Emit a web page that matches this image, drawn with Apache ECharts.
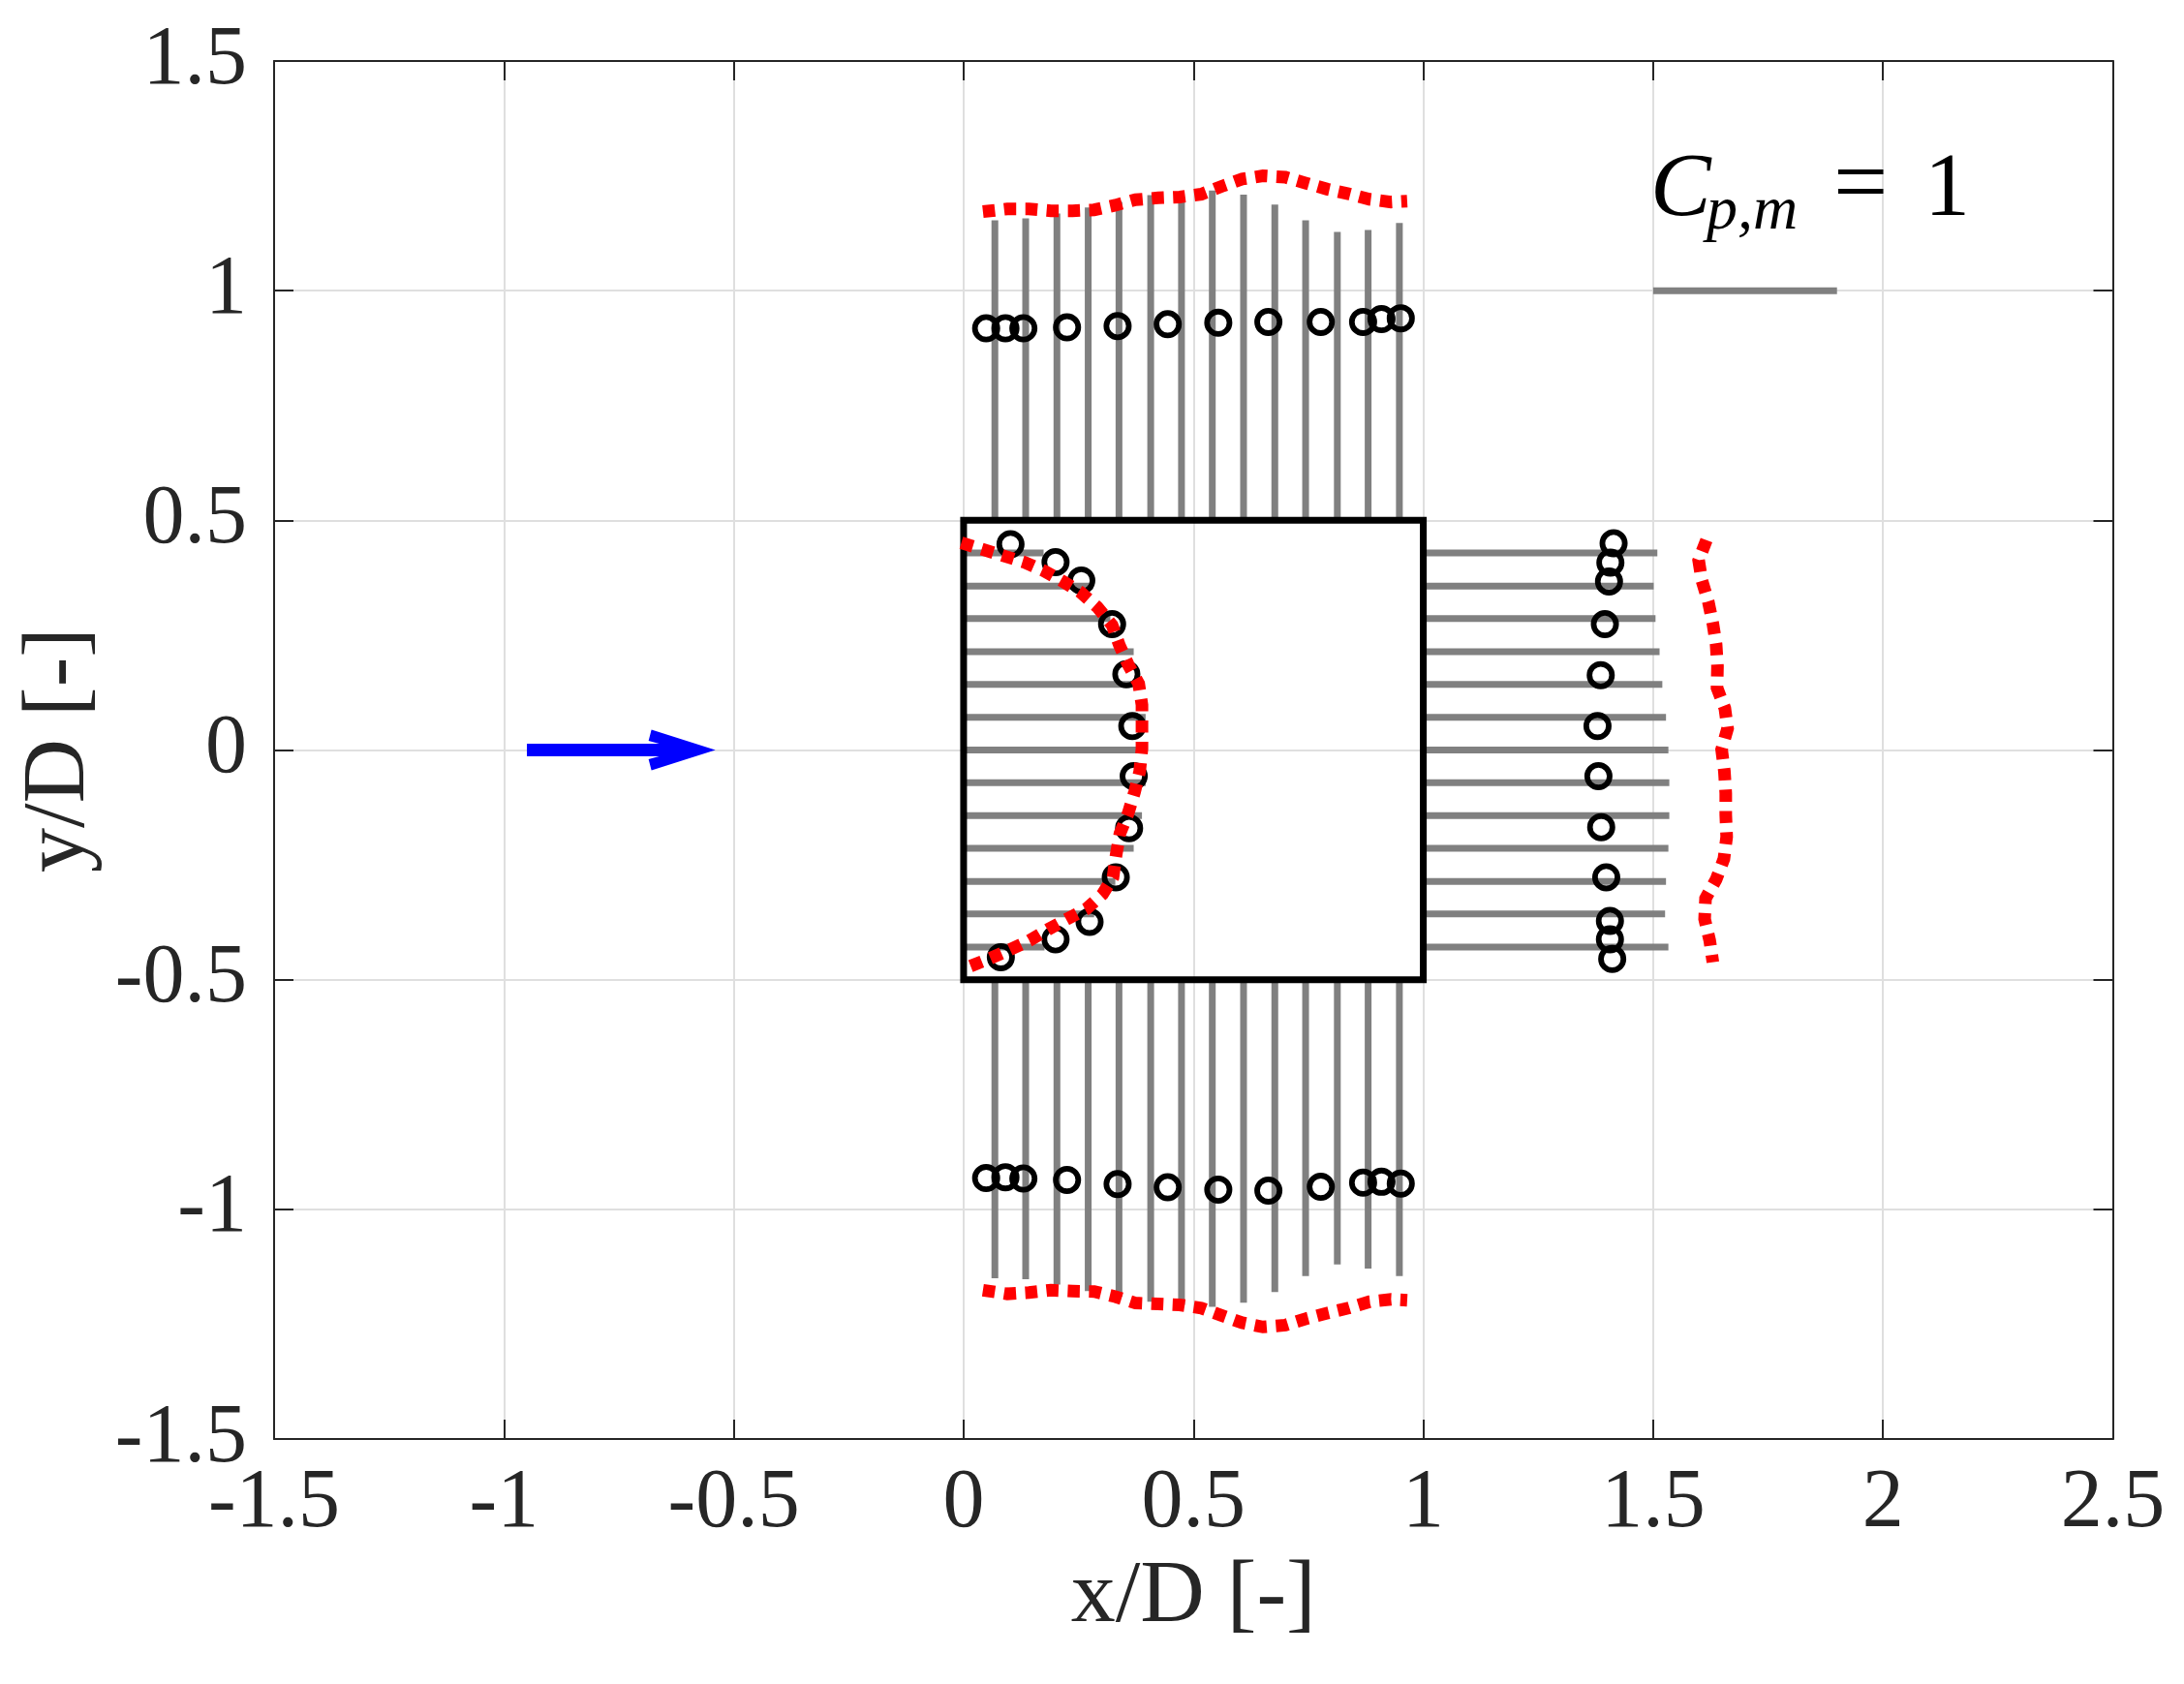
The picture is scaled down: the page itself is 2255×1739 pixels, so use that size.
<!DOCTYPE html>
<html><head><meta charset="utf-8">
<script src="https://cdn.jsdelivr.net/npm/echarts@6/dist/echarts.min.js"></script>
<style>html,body{margin:0;padding:0;background:#fff}#c{width:2255px;height:1739px}</style>
</head><body><div id="c"></div>
<script>
// ---------------- data ----------------
const SCALE = 0.4;            // D per unit of Cp (length of the legend bar for Cp,m = 1)
const xTicks = [-1.5, -1, -0.5, 0, 0.5, 1, 1.5, 2, 2.5];
const yTicks = [-1.5, -1, -0.5, 0, 0.5, 1, 1.5];

// square cylinder outline (corners)
const boxX = [0, 1, 1, 0];
const boxY = [0.5, 0.5, -0.5, -0.5];

// pressure bars on the side faces (x positions along top/bottom face)
const sideX = [0.068, 0.135, 0.203, 0.271, 0.338, 0.407, 0.474, 0.541, 0.609, 0.677, 0.744, 0.813, 0.880, 0.948];
const cpTop = [-1.633, -1.643, -1.670, -1.703, -1.733, -1.770, -1.758, -1.795, -1.773, -1.718, -1.633, -1.570, -1.580, -1.618];
const cpBottom = [-1.625, -1.630, -1.660, -1.695, -1.725, -1.753, -1.770, -1.780, -1.758, -1.700, -1.613, -1.550, -1.573, -1.613];

// pressure bars on front (windward) and back (leeward) faces
const faceY = [0.429, 0.357, 0.286, 0.214, 0.143, 0.071, 0, -0.071, -0.143, -0.214, -0.286, -0.357, -0.429];
const cpFront = [0.435, 0.703, 0.798, 0.925, 0.955, 0.990, 0.990, 0.990, 0.970, 0.925, 0.825, 0.710, 0.440];
const cpBack = [-1.273, -1.253, -1.263, -1.285, -1.300, -1.320, -1.333, -1.338, -1.338, -1.333, -1.320, -1.315, -1.333];

// circle markers
const circSideX = [0.049, 0.091, 0.130, 0.225, 0.335, 0.444, 0.554, 0.663, 0.777, 0.869, 0.909, 0.951];
const circTopY = [0.918, 0.918, 0.918, 0.920, 0.923, 0.927, 0.930, 0.932, 0.932, 0.932, 0.938, 0.940];
const circBotY = [-0.932, -0.930, -0.933, -0.936, -0.945, -0.952, -0.957, -0.959, -0.951, -0.942, -0.940, -0.944];
const circFrontX = [0.102, 0.200, 0.256, 0.323, 0.354, 0.367, 0.370, 0.360, 0.331, 0.274, 0.200, 0.081];
const circFrontY = [0.448, 0.409, 0.369, 0.274, 0.165, 0.052, -0.057, -0.170, -0.277, -0.374, -0.412, -0.451];
const circBackX = [1.414, 1.407, 1.404, 1.395, 1.386, 1.379, 1.381, 1.387, 1.398, 1.406, 1.406, 1.411];
const circBackY = [0.450, 0.408, 0.367, 0.274, 0.163, 0.052, -0.057, -0.168, -0.277, -0.372, -0.412, -0.455];

// red dotted profiles
const redSideX = [0.042, 0.095, 0.142, 0.190, 0.237, 0.284, 0.330, 0.374, 0.423, 0.470, 0.517, 0.561, 0.606, 0.651, 0.700, 0.745, 0.791, 0.837, 0.883, 0.930, 0.965];
const redTopY = [1.172, 1.178, 1.178, 1.174, 1.174, 1.176, 1.186, 1.198, 1.202, 1.204, 1.210, 1.227, 1.243, 1.250, 1.247, 1.234, 1.221, 1.211, 1.199, 1.193, 1.195];
const redBotY = [-1.176, -1.184, -1.181, -1.176, -1.178, -1.179, -1.190, -1.204, -1.206, -1.208, -1.215, -1.231, -1.247, -1.256, -1.252, -1.238, -1.226, -1.215, -1.201, -1.196, -1.198];
const redFrontX = [-0.005, 0.041, 0.086, 0.132, 0.175, 0.216, 0.255, 0.291, 0.323, 0.339, 0.358, 0.381, 0.388, 0.388, 0.388, 0.383, 0.372, 0.358, 0.340, 0.332, 0.325, 0.302, 0.267, 0.225, 0.183, 0.143, 0.098, 0.054, 0.011];
const redFrontY = [0.451, 0.437, 0.423, 0.409, 0.390, 0.367, 0.343, 0.311, 0.272, 0.228, 0.186, 0.144, 0.098, 0.050, 0.003, -0.047, -0.091, -0.138, -0.182, -0.227, -0.277, -0.314, -0.346, -0.368, -0.391, -0.415, -0.436, -0.455, -0.472];
const redBackX = [1.616, 1.599, 1.606, 1.620, 1.630, 1.637, 1.640, 1.639, 1.656, 1.662, 1.649, 1.655, 1.658, 1.658, 1.660, 1.654, 1.637, 1.614, 1.612, 1.623, 1.630];
const redBackY = [0.457, 0.413, 0.369, 0.323, 0.275, 0.230, 0.182, 0.135, 0.091, 0.047, 0.001, -0.046, -0.094, -0.141, -0.189, -0.237, -0.282, -0.323, -0.368, -0.414, -0.462];

// inflow arrow [xStart, xEnd] at y
const arrowX = [-0.95, -0.54];
const arrowY = [0, 0];

// legend bar: reference Cp and anchor
const legendCp = 1;
const legendAnchor = [1.5, 1.0];
const legendLabel = ['C', 'p,m', '=', '1'];

// ---------------- build ----------------
const bars = [];
sideX.forEach((x, i) => {
  bars.push([x, 0.5, x, 0.5 + Math.abs(cpTop[i]) * SCALE]);
  bars.push([x, -0.5, x, -0.5 - Math.abs(cpBottom[i]) * SCALE]);
});
faceY.forEach((y, i) => {
  bars.push([0, y, 0 + Math.abs(cpFront[i]) * SCALE, y]);
  bars.push([1, y, 1 + Math.abs(cpBack[i]) * SCALE, y]);
});
bars.push([legendAnchor[0], legendAnchor[1], legendAnchor[0] + legendCp * SCALE, legendAnchor[1]]);

const zip = (a, b) => a.map((v, i) => [v, b[i]]);
const circles = [].concat(
  zip(circSideX, circTopY), zip(circSideX, circBotY),
  zip(circFrontX, circFrontY), zip(circBackX, circBackY)
);

const GRAY = '#808080';
const FONT = '"Liberation Serif", "Times New Roman", serif';
const AX = '#262626';

function redSeries(xs, ys) {
  return {
    type: 'line', data: zip(xs, ys), symbol: 'none', silent: true, z: 5,
    lineStyle: { color: '#ff0000', width: 13, type: [12.5, 9.5], cap: 'butt', join: 'miter' }
  };
}

const mainX = {
  type: 'value', min: -1.5, max: 2.5, interval: 0.5, position: 'bottom',
  axisLine: { show: true, onZero: false, lineStyle: { color: AX, width: 2 } },
  axisTick: { show: true, inside: true, length: 20, lineStyle: { color: AX, width: 2 } },
  axisLabel: { show: true, margin: 24, color: AX, fontFamily: FONT, fontSize: 86, showMinLabel: true, showMaxLabel: true,
    formatter: v => String(xTicks.find(t => Math.abs(t - v) < 1e-9) ?? v) },
  splitLine: { show: true, lineStyle: { color: '#dfdfdf', width: 2 } },
  name: 'x/D [-]', nameLocation: 'middle', nameGap: 118,
  nameTextStyle: { color: AX, fontFamily: FONT, fontSize: 92 }
};
const topX = {
  type: 'value', min: -1.5, max: 2.5, interval: 0.5, position: 'top',
  axisLine: { show: true, onZero: false, lineStyle: { color: AX, width: 2 } },
  axisTick: { show: true, inside: true, length: 20, lineStyle: { color: AX, width: 2 } },
  axisLabel: { show: false }, splitLine: { show: false }
};
const mainY = {
  type: 'value', min: -1.5, max: 1.5, interval: 0.5, position: 'left',
  axisLine: { show: true, onZero: false, lineStyle: { color: AX, width: 2 } },
  axisTick: { show: true, inside: true, length: 20, lineStyle: { color: AX, width: 2 } },
  axisLabel: { show: true, margin: 28, color: AX, fontFamily: FONT, fontSize: 86, showMinLabel: true, showMaxLabel: true,
    padding: [0, 0, 12, 0],
    formatter: v => String(yTicks.find(t => Math.abs(t - v) < 1e-9) ?? v) },
  splitLine: { show: true, lineStyle: { color: '#dfdfdf', width: 2 } },
  name: 'y/D [-]', nameLocation: 'middle', nameGap: 175,
  nameTextStyle: { color: AX, fontFamily: FONT, fontSize: 92 }
};
const rightY = {
  type: 'value', min: -1.5, max: 1.5, interval: 0.5, position: 'right',
  axisLine: { show: true, onZero: false, lineStyle: { color: AX, width: 2 } },
  axisTick: { show: true, inside: true, length: 20, lineStyle: { color: AX, width: 2 } },
  axisLabel: { show: false }, splitLine: { show: false }
};

const chart = echarts.init(document.getElementById('c'), null, { renderer: 'canvas' });
chart.setOption({
  animation: false,
  backgroundColor: '#ffffff',
  grid: { left: 283, right: 73.5, top: 63, bottom: 253, containLabel: false, outerBoundsMode: 'none' },
  xAxis: [mainX, topX],
  yAxis: [mainY, rightY],
  series: [
    { // pressure bars
      type: 'custom', silent: true, z: 2, clip: false,
      encode: { x: [0, 2], y: [1, 3] },
      data: bars,
      renderItem: (params, api) => {
        const p0 = api.coord([api.value(0), api.value(1)]);
        const p1 = api.coord([api.value(2), api.value(3)]);
        return { type: 'line', shape: { x1: p0[0], y1: p0[1], x2: p1[0], y2: p1[1] },
          style: { stroke: GRAY, lineWidth: 7, lineCap: 'butt' } };
      }
    },
    { // cylinder outline
      type: 'custom', silent: true, z: 3, clip: false,
      encode: { x: 0, y: 1 },
      data: [[boxX[0], boxY[0]]],
      renderItem: (params, api) => {
        const pts = boxX.map((x, i) => api.coord([x, boxY[i]]));
        return { type: 'polygon', shape: { points: pts },
          style: { fill: 'none', stroke: '#000', lineWidth: 7, lineJoin: 'miter' } };
      }
    },
    { // circle markers
      type: 'custom', silent: true, z: 4, clip: false,
      encode: { x: 0, y: 1 },
      data: circles,
      renderItem: (params, api) => {
        const p = api.coord([api.value(0), api.value(1)]);
        return { type: 'circle', shape: { cx: p[0], cy: p[1], r: 11.6 },
          style: { fill: 'none', stroke: '#000', lineWidth: 5.8 } };
      }
    },
    redSeries(redSideX, redTopY),
    redSeries(redSideX, redBotY),
    redSeries(redFrontX, redFrontY),
    redSeries(redBackX, redBackY),
    { // inflow arrow
      type: 'custom', silent: true, z: 6, clip: false,
      encode: { x: [0, 2], y: [1, 3] },
      data: [[arrowX[0], arrowY[0], arrowX[1], arrowY[1]]],
      renderItem: (params, api) => {
        const p0 = api.coord([api.value(0), api.value(1)]);
        const p1 = api.coord([api.value(2), api.value(3)]);
        const tx = p1[0], ty = p1[1];
        return { type: 'group', children: [
          { type: 'rect', shape: { x: p0[0], y: ty - 6.5, width: (tx - 56) - p0[0], height: 13 }, style: { fill: '#0000ff' } },
          { type: 'polygon', shape: { points: [[tx, ty], [tx - 66, ty - 21], [tx - 69, ty - 9.5], [tx - 58, ty - 6.5],
              [tx - 58, ty + 6.5], [tx - 69, ty + 9.5], [tx - 66, ty + 21]] }, style: { fill: '#0000ff' } }
        ] };
      }
    },
    { // legend label
      type: 'custom', silent: true, z: 7, clip: false,
      encode: { x: 0, y: 1 },
      data: [legendAnchor],
      renderItem: (params, api) => {
        const p = api.coord([api.value(0), api.value(1)]);
        const bx = p[0], by = p[1] - 73; // baseline of main text
        const mk = (txt, dx, dyBase, size, italic) => ({
          type: 'text', x: bx + dx, y: by + dyBase - 0.32 * size,
          style: { text: txt, fill: '#000', align: 'left', verticalAlign: 'middle',
            font: (italic ? 'italic ' : '') + size + 'px ' + FONT }
        });
        return { type: 'group', children: [
          mk(legendLabel[0], -3, 0, 94, true),
          mk(legendLabel[1], 55, 12, 64, true),
          mk(legendLabel[2], 186, 0, 100, false),
          mk(legendLabel[3], 280, 0, 94, false)
        ] };
      }
    }
  ]
});
</script></body></html>
